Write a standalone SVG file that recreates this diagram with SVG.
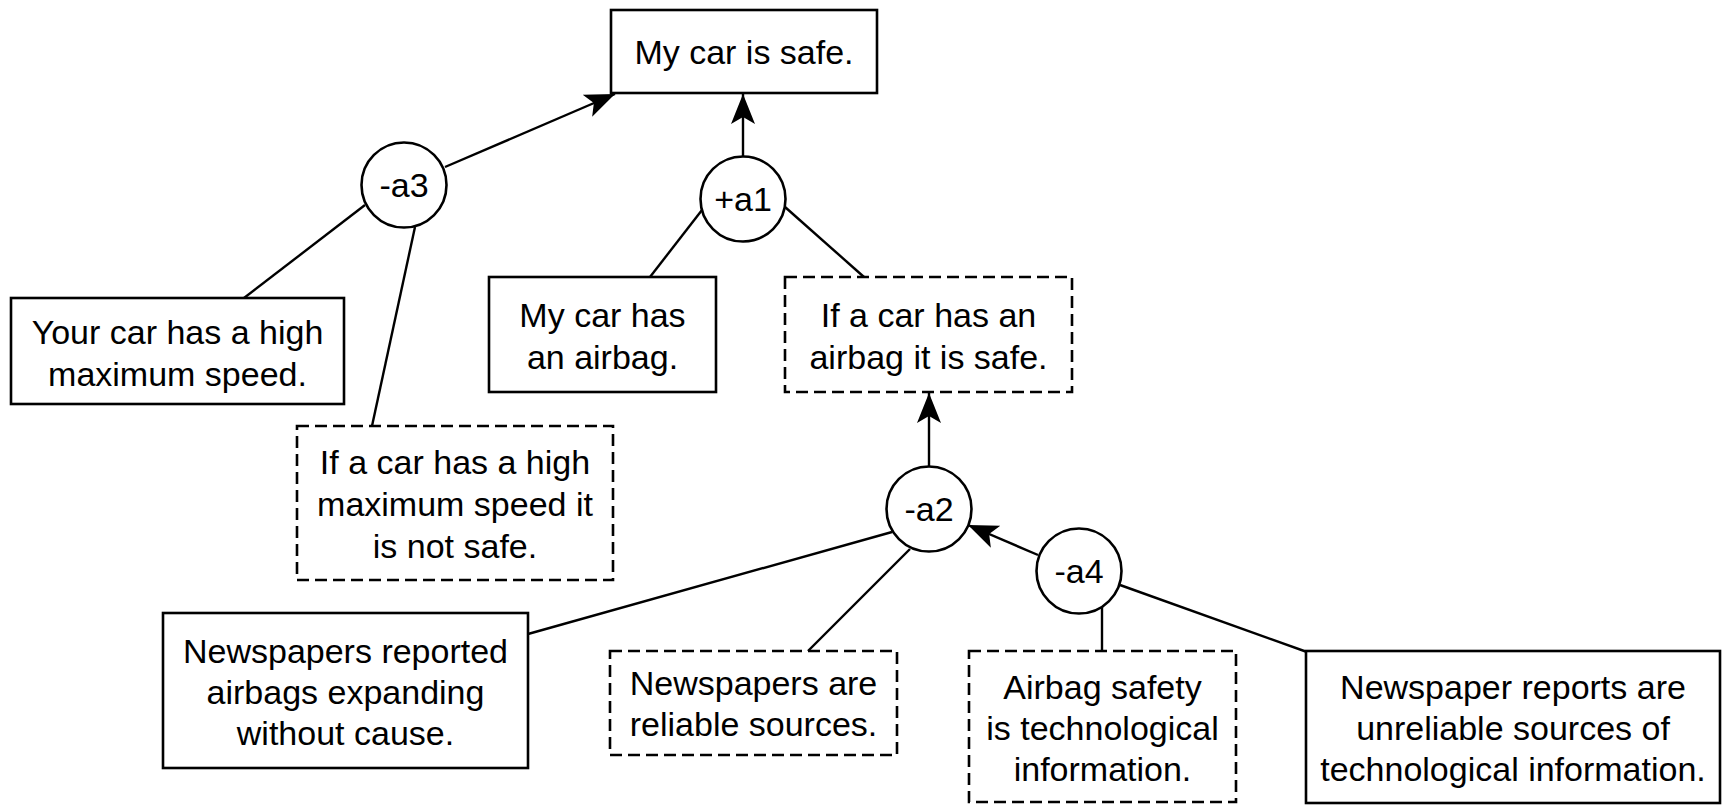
<svg xmlns="http://www.w3.org/2000/svg" width="1723" height="805" viewBox="0 0 1723 805">
  <style>
    .box { fill: #fff; stroke: #000; stroke-width: 2.6; }
    .dashed { stroke-dasharray: 12 6; }
    .arg { fill: #fff; stroke: #000; stroke-width: 2.6; }
    .edge { fill: none; stroke: #000; stroke-width: 2.4; }
    text { font-family: "Liberation Sans", Arial, sans-serif; font-size: 34px; fill: #000; text-anchor: middle; }
  </style>
  <defs>
    <marker id="arrow" markerUnits="userSpaceOnUse" markerWidth="34" markerHeight="28" viewBox="-32 -14 34 28" refX="0" refY="0" orient="auto" overflow="visible">
      <path d="M0,0 L-30,-12 L-23,0 L-30,12 Z" fill="#000"/>
    </marker>
  </defs>
  <rect width="1723" height="805" fill="#fff"/>

  <!-- connectors -->
  <g id="connectors">
    <line class="edge" x1="445" y1="167" x2="615" y2="94" marker-end="url(#arrow)"/>
    <line class="edge" x1="743" y1="157" x2="743" y2="94" marker-end="url(#arrow)"/>
    <line class="edge" x1="365" y1="205" x2="244" y2="298"/>
    <line class="edge" x1="415" y1="227" x2="372" y2="426"/>
    <line class="edge" x1="702" y1="210" x2="650" y2="277"/>
    <line class="edge" x1="785" y1="207" x2="864" y2="277"/>
    <line class="edge" x1="929" y1="466" x2="929" y2="393" marker-end="url(#arrow)"/>
    <line class="edge" x1="892" y1="532" x2="528" y2="634"/>
    <line class="edge" x1="910" y1="549" x2="808" y2="651"/>
    <line class="edge" x1="1038" y1="555" x2="968" y2="525" marker-end="url(#arrow)"/>
    <line class="edge" x1="1102" y1="606" x2="1102" y2="651"/>
    <line class="edge" x1="1120" y1="585" x2="1307" y2="652"/>
  </g>

  <!-- claim nodes -->
  <g id="claim-safe">
    <rect class="box" x="611" y="10" width="266" height="83"/>
    <text x="744" y="64">My car is safe.</text>
  </g>
  <g id="claim-speed">
    <rect class="box" x="11" y="298" width="333" height="106"/>
    <text x="177.5" y="344">Your car has a high</text>
    <text x="177.5" y="386">maximum speed.</text>
  </g>
  <g id="rule-speed">
    <rect class="box dashed" x="297" y="426" width="316" height="154"/>
    <text x="455" y="474">If a car has a high</text>
    <text x="455" y="516">maximum speed it</text>
    <text x="455" y="558">is not safe.</text>
  </g>
  <g id="claim-airbag">
    <rect class="box" x="489" y="277" width="227" height="115"/>
    <text x="602.5" y="327">My car has</text>
    <text x="602.5" y="369">an airbag.</text>
  </g>
  <g id="rule-airbag">
    <rect class="box dashed" x="785" y="277" width="287" height="115"/>
    <text x="928.5" y="327">If a car has an</text>
    <text x="928.5" y="369">airbag it is safe.</text>
  </g>
  <g id="claim-reports">
    <rect class="box" x="163" y="613" width="365" height="155"/>
    <text x="345.5" y="663">Newspapers reported</text>
    <text x="345.5" y="704">airbags expanding</text>
    <text x="345.5" y="745">without cause.</text>
  </g>
  <g id="rule-reliable">
    <rect class="box dashed" x="610" y="651" width="287" height="104"/>
    <text x="753.5" y="695">Newspapers are</text>
    <text x="753.5" y="736">reliable sources.</text>
  </g>
  <g id="claim-technological">
    <rect class="box dashed" x="969" y="651" width="267" height="151"/>
    <text x="1102.5" y="699">Airbag safety</text>
    <text x="1102.5" y="740">is technological</text>
    <text x="1102.5" y="781">information.</text>
  </g>
  <g id="rule-unreliable">
    <rect class="box" x="1306" y="651" width="414" height="152"/>
    <text x="1513" y="699">Newspaper reports are</text>
    <text x="1513" y="740">unreliable sources of</text>
    <text x="1513" y="781">technological information.</text>
  </g>

  <!-- argument nodes -->
  <g id="arg-a3">
    <circle class="arg" cx="404" cy="185" r="42.5"/>
    <text x="404" y="197">-a3</text>
  </g>
  <g id="arg-a1">
    <circle class="arg" cx="743" cy="199" r="42.5"/>
    <text x="743" y="211">+a1</text>
  </g>
  <g id="arg-a2">
    <circle class="arg" cx="929" cy="509" r="42.5"/>
    <text x="929" y="521">-a2</text>
  </g>
  <g id="arg-a4">
    <circle class="arg" cx="1079" cy="571" r="42.5"/>
    <text x="1079" y="583">-a4</text>
  </g>
</svg>
